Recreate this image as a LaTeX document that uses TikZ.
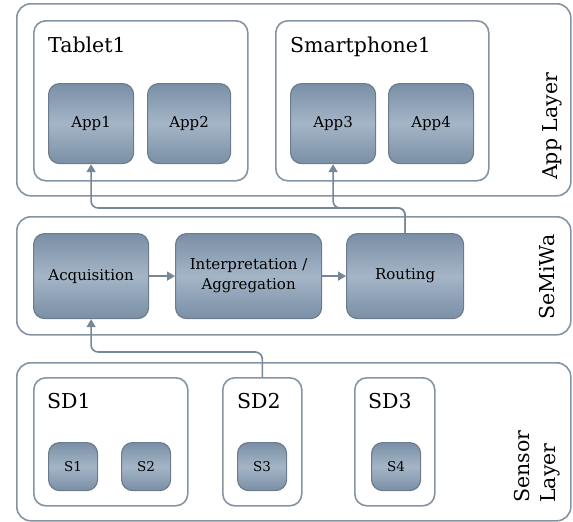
\documentclass[tikz,border=0pt]{standalone}
\usepackage{fontspec}
\setmainfont{DejaVu Serif}
\usepackage{xcolor}
\usetikzlibrary{arrows.meta}
\definecolor{framegray}{RGB}{133,148,163}
\definecolor{wiregray}{RGB}{118,135,152}
\definecolor{unitdark}{RGB}{122,143,166}
\definecolor{unitlight}{RGB}{164,181,198}
\definecolor{unitedge}{RGB}{108,124,141}
\newcommand\bigfont{\fontsize{20.5}{26}\selectfont}
\newcommand\unitfont{\fontsize{15}{20}\selectfont}
\newcommand\sensfont{\fontsize{13.5}{16}\selectfont}
\tikzstyle{layerbox}=[draw=framegray,line width=1.6pt,rounded corners=14pt,anchor=north west,inner sep=0pt]
\tikzstyle{devbox}=[layerbox,rounded corners=12pt]
\tikzstyle{unitbox}=[draw=unitedge,line width=1.2pt,rounded corners=11pt,anchor=north west,inner sep=0pt,
  top color=unitdark,bottom color=unitdark,middle color=unitlight,font=\unitfont,align=center]
\tikzstyle{sensbox}=[unitbox,font=\sensfont,minimum width=49pt,minimum height=48pt]
\tikzstyle{boxname}=[font=\bigfont,anchor=base west,inner sep=0pt]
\tikzstyle{layername}=[boxname,rotate=90]
\tikzstyle{flowhead}=[>/.tip={Triangle[length=8pt,width=9pt]}]
\tikzstyle{flow}=[draw=wiregray,line width=1.6pt,flowhead,->,rounded corners=7pt]
\begin{document}
\begin{tikzpicture}[x=1pt,y=-1pt]
	\useasboundingbox (0,0) rectangle (573,522);
	% app layer
	\node[layerbox,minimum width=554pt,minimum height=192pt] (applayer) at (16,3) {};
	\node[devbox,minimum width=214pt,minimum height=160pt] (tablet) at (33,20) {};
	\node[devbox,minimum width=213pt,minimum height=160pt] (phone) at (275,20) {};
	\node[boxname] (tabletname) at (48,52) {Tablet1};
	\node[boxname] (phonename) at (290,52) {Smartphone1};
	\node[unitbox,minimum width=85pt,minimum height=80pt] (app1) at (48,83) {App1};
	\node[unitbox,minimum width=83pt,minimum height=80pt] (app2) at (147,83) {App2};
	\node[unitbox,minimum width=85pt,minimum height=80pt] (app3) at (290,83) {App3};
	\node[unitbox,minimum width=85pt,minimum height=80pt] (app4) at (388,83) {App4};
	\node[layername] (appname) at (557,180) {App Layer};
	% middleware
	\node[layerbox,minimum width=554pt,minimum height=118pt] (mwlayer) at (16,216) {};
	\node[unitbox,minimum width=115pt,minimum height=85pt] (acq) at (33,233) {Acquisition};
	\node[unitbox,minimum width=146pt,minimum height=85pt] (interp) at (175,233) {Interpretation /\\Aggregation};
	\node[unitbox,minimum width=117pt,minimum height=85pt] (routing) at (346,233) {Routing};
	\node[layername] (mwname) at (554,320) {SeMiWa};
	% sensor layer
	\node[layerbox,minimum width=554pt,minimum height=158pt] (senslayer) at (16,362) {};
	\node[devbox,minimum width=154pt,minimum height=128pt] (sd1) at (33,377) {};
	\node[devbox,minimum width=79pt,minimum height=128pt] (sd2) at (222,377) {};
	\node[devbox,minimum width=80pt,minimum height=128pt] (sd3) at (354,377) {};
	\node[boxname] (sd1name) at (47,408) {SD1};
	\node[boxname] (sd2name) at (237,408) {SD2};
	\node[boxname] (sd3name) at (368,408) {SD3};
	\node[sensbox] (s1) at (48,442) {S1};
	\node[sensbox] (s2) at (121,442) {S2};
	\node[sensbox] (s3) at (237,442) {S3};
	\node[sensbox] (s4) at (371,442) {S4};
	\node[layername,align=left] (sensname) at (555,503) {Sensor\\Layer};
	% data flow
	\coordinate (upbus) at (0,208);
	\coordinate (downbus) at (0,352);
	\draw[flow] (sd2.north) -- (sd2.north |- downbus) -| (acq.south);
	\draw[flow] (acq) -- (interp);
	\draw[flow] (interp) -- (routing);
	\draw[flow] (routing.north) -- (routing.north |- upbus) -| (app1.south);
	\draw[flow] (routing.north) -- (routing.north |- upbus) -| (app3.south);
\end{tikzpicture}
\end{document}
